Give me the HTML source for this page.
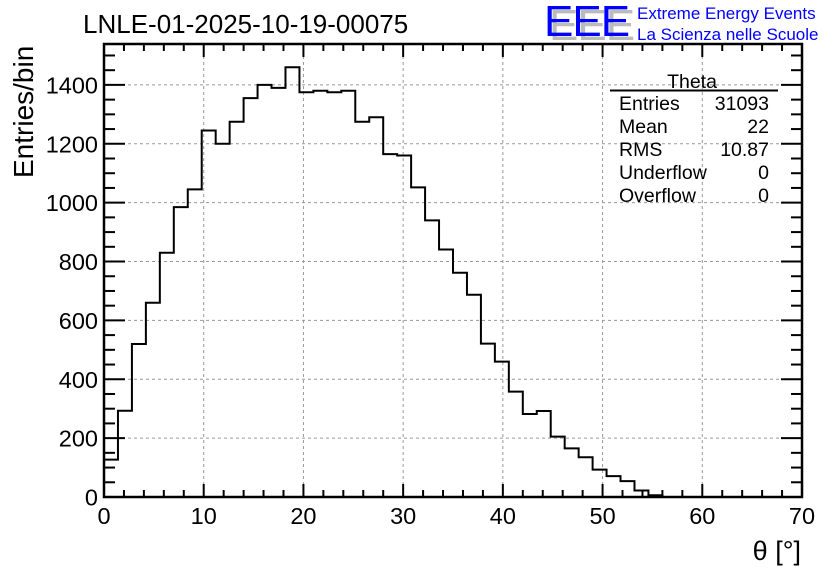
<!DOCTYPE html>
<html><head><meta charset="utf-8"><style>
html,body{margin:0;padding:0;background:#fff;}
svg{display:block;font-family:"Liberation Sans",Arial,sans-serif;}
</style></head><body>
<svg id="chart" width="836" height="572" viewBox="0 0 836 572">
<rect x="0" y="0" width="836" height="572" fill="#fff"/>
<g id="grid"></g>
<g id="hist"></g>
<g id="axes"></g>
<text x="83" y="33" font-size="26">LNLE-01-2025-10-19-00075</text>
<g>
<text x="549" y="40" font-size="44" fill="#bbb" letter-spacing="-1">EEE</text>
<text x="544" y="36" font-size="44" fill="#0000ff" letter-spacing="-1">EEE</text>
<text x="637" y="19" font-size="17" fill="#0000ff">Extreme Energy Events</text>
<text x="637" y="40" font-size="17" fill="#0000ff">La Scienza nelle Scuole</text>
</g>
<g font-size="19.5">
<text x="692" y="88" text-anchor="middle">Theta</text>
<line x1="610" y1="90.5" x2="778" y2="90.5" stroke="#000" stroke-width="2"/>
<text x="619" y="110">Entries</text><text x="769" y="110" text-anchor="end">31093</text>
<text x="619" y="133">Mean</text><text x="769" y="133" text-anchor="end">22</text>
<text x="619" y="156">RMS</text><text x="769" y="156" text-anchor="end">10.87</text>
<text x="619" y="179">Underflow</text><text x="769" y="179" text-anchor="end">0</text>
<text x="619" y="202">Overflow</text><text x="769" y="202" text-anchor="end">0</text>
</g>
<text transform="translate(33,178) rotate(-90)" font-size="28">Entries/bin</text>
<text x="801" y="560" font-size="27" text-anchor="end">θ [°]</text>
</svg>
<script>
const binEdgesStart = 0;
const binWidth = 1.4;
const counts = [127,293,520,660,830,985,1045,1245,1200,1275,1355,1400,1390,1460,1375,1380,1375,1380,1275,1290,1165,1160,1052,940,841,762,687,521,460,358,282,292,205,165,135,93,71,54,22,6,0,0,0,0,0,0,0,0,0,0];
const xTicks = [0,10,20,30,40,50,60,70];
const yTicks = [0,200,400,600,800,1000,1200,1400];
const xMin = 0, xMax = 70, yMin = 0, yMax = 1539;

const L=104, R=802, T=44, B=497;
const sx = v => L + (v - xMin) / (xMax - xMin) * (R - L);
const sy = v => B - (v - yMin) / (yMax - yMin) * (B - T);
const NS = "http://www.w3.org/2000/svg";
function mk(tag, attrs, parent){const e=document.createElementNS(NS,tag);for(const k in attrs)e.setAttribute(k,attrs[k]);parent.appendChild(e);return e;}
const grid=document.getElementById('grid'), hist=document.getElementById('hist'), axes=document.getElementById('axes');

xTicks.forEach(t=>{ if(t>xMin && t<xMax){
  const g=mk('line',{x1:sx(t),x2:sx(t),y1:T,y2:B,stroke:'#999','stroke-dasharray':'3,3','stroke-width':1},grid);
  
  
}});
yTicks.forEach(t=>{ if(t>yMin){
  const g=mk('line',{x1:L,x2:R,y1:sy(t),y2:sy(t),stroke:'#999','stroke-dasharray':'3,3','stroke-width':1},grid);
  
  
}});

let d = `M${sx(binEdgesStart)},${sy(0)}`;
counts.forEach((c,i)=>{
  const x0=sx(binEdgesStart+i*binWidth), x1=sx(binEdgesStart+(i+1)*binWidth);
  d += ` L${x0},${sy(c)} L${x1},${sy(c)}`;
});
d += ` L${sx(binEdgesStart+counts.length*binWidth)},${sy(0)}`;
const p=mk('path',{d:d,fill:'none',stroke:'#000','stroke-width':2},hist);



const fr=mk('rect',{x:L,y:T,width:R-L,height:B-T,fill:'none',stroke:'#000','stroke-width':2.5},axes);



for(let v=xMin; v<=xMax; v+=2){
  const major = v%10===0;
  const len = major?13:7;
  mk('line',{x1:sx(v),x2:sx(v),y1:B,y2:B-len,stroke:'#000','stroke-width':2},axes);
  mk('line',{x1:sx(v),x2:sx(v),y1:T,y2:T+len,stroke:'#000','stroke-width':2},axes);
}
xTicks.forEach(t=>{
  const tx=mk('text',{x:sx(t),y:524,'font-size':23.5,'text-anchor':'middle'},axes);
  tx.textContent=t;
  
  
});
for(let v=yMin; v<=yMax; v+=50){
  const major = v%200===0;
  const len = major?21:11;
  mk('line',{x1:L,x2:L+len,y1:sy(v),y2:sy(v),stroke:'#000','stroke-width':2},axes);
  mk('line',{x1:R,x2:R-len,y1:sy(v),y2:sy(v),stroke:'#000','stroke-width':2},axes);
}
yTicks.forEach(t=>{
  const tx=mk('text',{x:98,y:sy(t)+8.5,'font-size':23.5,'text-anchor':'end'},axes);
  tx.textContent=t;
  
  
});
</script>
</body></html>
